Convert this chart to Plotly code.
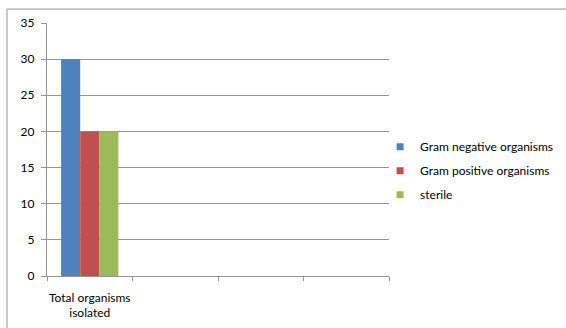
import plotly.graph_objects as go

categories = ["Total organisms<br>isolated", " ", "  ", "   "]
series_names = ["Gram negative organisms", "Gram positive organisms", "sterile"]
series_values = [[30], [20], [20]]
colors = ["#4F81BD", "#C0504D", "#9BBB59"]
y_ticks = [0, 5, 10, 15, 20, 25, 30, 35]

FONT = "Lato, Open Sans, sans-serif"
GRID = "#949494"

fig = go.Figure()
for i, (name, vals) in enumerate(zip(series_names, series_values)):
    fig.add_trace(go.Bar(x=categories[:len(vals)], y=vals, name=name,
                         marker=dict(color=colors[i], line=dict(width=0)),
                         showlegend=False))
    fig.add_trace(go.Scatter(x=[None], y=[None], mode="markers", name=name,
                             marker=dict(symbol="square", size=7, color=colors[i]),
                             legendgroup=name, showlegend=True))

fig.update_layout(
    width=566, height=328,
    margin=dict(l=47, r=177, t=23, b=52, autoexpand=False),
    paper_bgcolor="white", plot_bgcolor="white",
    font=dict(family=FONT, size=12, color="#000000"),
    barmode="group", bargap=0.33, bargroupgap=0,
    legend=dict(x=0.974, y=0.568, xanchor="left", yanchor="top",
                font=dict(family=FONT, size=12, color="#000000"),
                tracegroupgap=5, itemwidth=30, bgcolor="rgba(0,0,0,0)"),
    xaxis=dict(type="category", categoryorder="array", categoryarray=categories,
               range=[-0.5, len(categories) - 0.5], tickangle=0, automargin=False,
               showline=True, linecolor=GRID, linewidth=1.2,
               ticks="outside", ticklen=4, tickcolor=GRID, tickson="boundaries",
               showgrid=False, ticklabelstandoff=10),
    yaxis=dict(range=[0, 35], tickvals=y_ticks, showgrid=True, gridcolor=GRID,
               gridwidth=1.2, showline=True, linecolor=GRID, linewidth=1.2,
               ticks="outside", ticklen=5, tickcolor=GRID, zeroline=False,
               ticklabelstandoff=4, automargin=False),
    shapes=[dict(type="rect", xref="paper", yref="paper",
                 x0=-0.117, y0=-0.5, x1=1.7, y1=1.055,
                 line=dict(color=GRID, width=1), layer="below")],
)

fig.write_html("out.html", config={"displayModeBar": False},
               post_script="document.body.style.margin='0';")
